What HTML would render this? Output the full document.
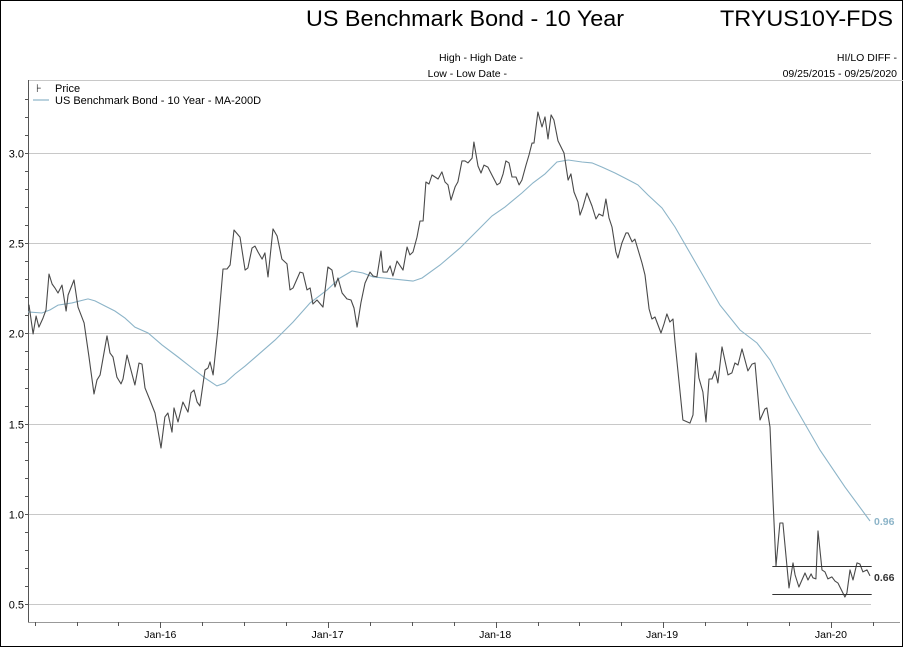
<!DOCTYPE html>
<html><head><meta charset="utf-8"><style>
html,body{margin:0;padding:0;background:#fff;}
svg{display:block;font-family:"Liberation Sans",Arial,sans-serif;}
</style></head><body>
<svg id="chart" width="903" height="647" viewBox="0 0 903 647">
<rect x="0.5" y="0.5" width="902" height="646" fill="#fff" stroke="#000"/>
<text x="465" y="26" font-size="22" text-anchor="middle" fill="#000" textLength="318" lengthAdjust="spacingAndGlyphs">US Benchmark Bond - 10 Year</text>
<text x="893" y="26" font-size="22" text-anchor="end" fill="#000" textLength="173" lengthAdjust="spacingAndGlyphs">TRYUS10Y-FDS</text>
<text x="523" y="61" font-size="10.5" text-anchor="end">High - High Date -</text>
<text x="507" y="77" font-size="10.5" text-anchor="end">Low - Low Date -</text>
<text x="897" y="61" font-size="10.5" text-anchor="end">HI/LO DIFF -</text>
<text x="897" y="77" font-size="10.5" text-anchor="end">09/25/2015 - 09/25/2020</text>
<g id="grid"></g>
<line x1="28" y1="80.5" x2="903" y2="80.5" stroke="#c8c8c8"/>
<line x1="28.5" y1="80" x2="28.5" y2="622" stroke="#555"/>
<line x1="28" y1="622.5" x2="900" y2="622.5" stroke="#999"/>
<g id="axes"></g>
<g id="series"></g>
<g>
<text x="36" y="92" font-size="11" fill="#333">⊦</text>
<text x="55" y="92" font-size="11">Price</text>
<line x1="33" y1="100" x2="49" y2="100" stroke="#8cb4c8" stroke-width="1.2"/>
<text x="55" y="104" font-size="11">US Benchmark Bond - 10 Year - MA-200D</text>
</g>
</svg>
<script>
const yTicks=[0.5,1.0,1.5,2.0,2.5,3.0];
const yTickLabels=["0.5","1.0","1.5","2.0","2.5","3.0"];
const xLabels=["Jan-16","Jan-17","Jan-18","Jan-19","Jan-20"];
const xLabelT=[0.786,1.779,2.774,3.765,4.768];
const priceT=[0,.006,.030,.048,.065,.089,.107,.125,.143,.160,.178,.202,.226,.238,.273,.297,.333,.362,.392,.410,.428,.469,.487,.505,.528,.552,.564,.588,.635,.659,.677,.695,.724,.754,.790,.813,.831,.855,.867,.891,.920,.950,.968,.986,1.004,1.021,1.051,1.069,1.081,1.099,1.128,1.158,1.182,1.200,1.223,1.259,1.289,1.306,1.330,1.348,1.366,1.390,1.407,1.425,1.455,1.479,1.508,1.538,1.556,1.574,1.615,1.633,1.657,1.675,1.692,1.716,1.752,1.781,1.805,1.823,1.841,1.865,1.894,1.918,1.936,1.954,1.977,2.001,2.031,2.049,2.072,2.096,2.108,2.132,2.150,2.167,2.191,2.227,2.251,2.268,2.286,2.310,2.328,2.346,2.363,2.381,2.399,2.435,2.458,2.476,2.494,2.512,2.536,2.553,2.577,2.595,2.613,2.637,2.648,2.672,2.690,2.708,2.731,2.755,2.785,2.803,2.821,2.838,2.856,2.874,2.898,2.916,2.933,2.957,2.975,2.993,3.005,3.028,3.052,3.070,3.088,3.106,3.123,3.147,3.183,3.207,3.224,3.242,3.266,3.278,3.296,3.319,3.349,3.373,3.391,3.414,3.432,3.450,3.468,3.491,3.503,3.527,3.551,3.563,3.587,3.604,3.646,3.664,3.688,3.705,3.723,3.759,3.777,3.794,3.812,3.830,3.842,3.889,3.931,3.949,3.967,3.984,4.008,4.026,4.044,4.062,4.080,4.097,4.121,4.157,4.180,4.198,4.216,4.240,4.275,4.299,4.317,4.347,4.376,4.388,4.406,4.424,4.442,4.465,4.483,4.519,4.543,4.555,4.578,4.614,4.632,4.650,4.661,4.679,4.691,4.715,4.733,4.750,4.774,4.792,4.810,4.851,4.863,4.881,4.899,4.923,4.940,4.958,4.982,5.000];
const priceV=[2.157,2.157,1.997,2.096,2.035,2.085,2.130,2.329,2.274,2.252,2.224,2.268,2.124,2.213,2.296,2.146,2.058,1.869,1.664,1.742,1.770,1.986,1.891,1.869,1.758,1.720,1.747,1.880,1.714,1.836,1.830,1.698,1.631,1.559,1.365,1.537,1.559,1.453,1.587,1.509,1.620,1.564,1.670,1.686,1.620,1.598,1.797,1.808,1.842,1.770,2.030,2.357,2.357,2.379,2.573,2.534,2.351,2.363,2.473,2.484,2.451,2.412,2.446,2.313,2.579,2.540,2.412,2.385,2.241,2.252,2.340,2.335,2.241,2.252,2.163,2.185,2.146,2.368,2.351,2.257,2.307,2.224,2.191,2.185,2.141,2.035,2.169,2.279,2.340,2.318,2.313,2.457,2.340,2.340,2.374,2.318,2.401,2.351,2.479,2.435,2.451,2.534,2.623,2.623,2.839,2.828,2.878,2.856,2.895,2.839,2.823,2.739,2.812,2.840,2.956,2.956,2.945,2.972,3.061,2.928,2.889,2.933,2.922,2.878,2.823,2.834,2.884,2.956,2.945,2.867,2.867,2.823,2.850,2.933,2.989,3.055,3.055,3.227,3.144,3.200,3.078,3.211,3.183,3.067,3.000,2.850,2.884,2.784,2.728,2.656,2.701,2.778,2.706,2.634,2.662,2.651,2.745,2.640,2.590,2.451,2.418,2.501,2.557,2.557,2.507,2.523,2.390,2.324,2.135,2.080,2.091,2.002,2.052,2.108,2.063,2.080,1.952,1.520,1.503,1.548,1.891,1.753,1.675,1.509,1.747,1.747,1.792,1.725,1.925,1.770,1.781,1.836,1.825,1.914,1.792,1.830,1.836,1.520,1.581,1.587,1.481,1.077,0.711,0.949,0.949,0.589,0.728,0.661,0.594,0.672,0.633,0.667,0.645,0.639,0.905,0.689,0.678,0.639,0.650,0.627,0.616,0.539,0.561,0.689,0.633,0.728,0.722,0.678,0.689,0.656];
const maT=[0,.083,.131,.178,.261,.356,.398,.457,.516,.576,.635,.713,.796,.891,.974,1.051,1.122,1.170,1.229,1.289,1.467,1.574,1.675,1.776,1.853,1.924,1.989,2.049,2.167,2.286,2.340,2.447,2.565,2.595,2.672,2.755,2.833,2.933,2.999,3.070,3.141,3.207,3.290,3.349,3.409,3.486,3.545,3.622,3.682,3.765,3.842,3.990,4.109,4.228,4.329,4.406,4.525,4.703,4.851,5.0];
const maV=[2.119,2.113,2.130,2.157,2.169,2.191,2.180,2.152,2.124,2.085,2.035,2.002,1.936,1.869,1.808,1.753,1.709,1.725,1.775,1.819,1.963,2.063,2.169,2.241,2.307,2.346,2.335,2.313,2.302,2.290,2.307,2.379,2.473,2.501,2.573,2.651,2.701,2.778,2.834,2.884,2.950,2.961,2.950,2.945,2.922,2.889,2.861,2.823,2.767,2.695,2.590,2.351,2.157,2.019,1.947,1.853,1.642,1.353,1.149,0.960];
const hiLo=[0.711,0.556];
const hiLoT=[4.42,5.01];

const X0=28, X1=870, T0=0, T1=5;
const Y3=153, PXU=180.4;
function xs(t){return X0+(t-T0)/(T1-T0)*(X1-X0);}
function ys(v){return Y3+(3-v)*PXU;}
const NS='http://www.w3.org/2000/svg';
function mk(tag,attrs,parent){const e=document.createElementNS(NS,tag);for(const k in attrs)e.setAttribute(k,attrs[k]);parent.appendChild(e);return e;}
const grid=document.getElementById('grid'), axes=document.getElementById('axes'), series=document.getElementById('series');

yTicks.forEach((v,i)=>{
  const y=Math.round(ys(v))+0.5;
  const g=mk('line',{x1:28,y1:y,x2:871,y2:y,stroke:'#c8c8c8'},grid);
  
  
  const t=mk('text',{x:24,y:y+4,'font-size':11,'text-anchor':'end',fill:'#000'},axes);
  t.textContent=yTickLabels[i];
  
  
});
for(let v=0.4;v<=3.31;v+=0.1){
  const y=Math.round(ys(v))+0.5;
  if(y<82||y>620)continue;
  const tk=mk('line',{x1:25,y1:y,x2:28,y2:y,stroke:'#555'},axes);
  
  
}
for(let q=-3;q<20;q++){
  const t=xLabelT[0]+q*0.25*(xLabelT[4]-xLabelT[0])/4;
  const x=Math.round(xs(t))+0.5;
  if(x<30||x>900)continue;
  const major=(q%4===0);
  const tk=mk('line',{x1:x,y1:622,x2:x,y2:major?628:626,stroke:'#555'},axes);
  
  
}
xLabels.forEach((l,i)=>{
  const t=mk('text',{x:xs(xLabelT[i]),y:638,'font-size':10.5,'text-anchor':'middle',fill:'#000'},axes);
  t.textContent=l;
  
  
});

function pathFrom(T,V){return T.map((t,i)=>(i?'L':'M')+xs(t).toFixed(1)+','+ys(V[i]).toFixed(1)).join(' ');}
const ma=mk('path',{d:pathFrom(maT,maV),fill:'none',stroke:'#8cb4c8','stroke-width':1.1},series);


const pr=mk('path',{d:pathFrom(priceT,priceV),fill:'none',stroke:'#4a4a4a','stroke-width':1.1,'stroke-linejoin':'round'},series);


hiLo.forEach((v,i)=>{
  const y=Math.round(ys(v))+0.5;
  const l=mk('line',{x1:xs(hiLoT[0]),y1:y,x2:xs(hiLoT[1]),y2:y,stroke:'#333'},series);
  
  
});
const lm=mk('text',{x:874,y:ys(maV[maV.length-1])+4,'font-size':10.5,'font-weight':'bold',fill:'#8cb4c8'},series);
lm.textContent=maV[maV.length-1].toFixed(2);


const lp=mk('text',{x:874,y:ys(priceV[priceV.length-1])+5,'font-size':10.5,'font-weight':'bold',fill:'#333'},series);
lp.textContent=priceV[priceV.length-1].toFixed(2);


</script>
</body></html>
